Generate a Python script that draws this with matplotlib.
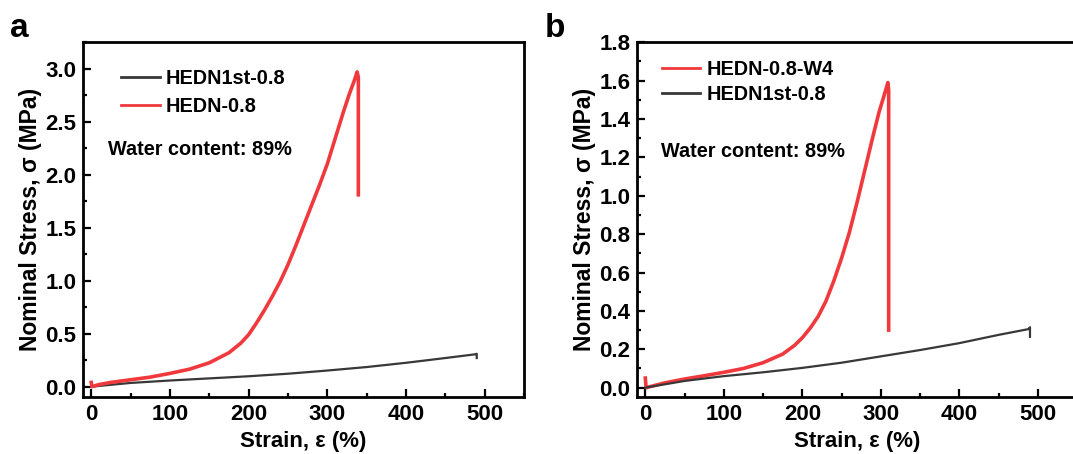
#! /usr/bin/env python3

import matplotlib
matplotlib.use('Agg')
import matplotlib.pyplot as plt
from matplotlib.ticker import MultipleLocator

# panel a
a_hedn_strain = [0, 1, 10, 25, 50, 75, 100, 125, 150, 175, 190, 200, 210, 220, 230, 240,
                 250, 260, 270, 280, 290, 300, 310, 320, 328, 334, 338, 339.5, 339.5]
a_hedn_stress = [0.04, 0.0, 0.02, 0.04, 0.065, 0.09, 0.125, 0.165, 0.225, 0.32, 0.41, 0.49,
                 0.6, 0.72, 0.85, 0.99, 1.15, 1.33, 1.52, 1.71, 1.9, 2.1, 2.34, 2.58,
                 2.76, 2.88, 2.97, 2.92, 1.81]
a_first_strain = [0, 50, 100, 150, 200, 250, 300, 350, 400, 450, 488, 490, 490]
a_first_stress = [0.0, 0.035, 0.058, 0.078, 0.098, 0.122, 0.152, 0.185, 0.225, 0.27,
                  0.305, 0.31, 0.27]

# panel b
b_w4_strain = [0, 1, 25, 50, 75, 100, 125, 150, 175, 190, 200, 210, 220, 230, 240, 250,
               260, 270, 280, 290, 298, 304, 309, 310, 310]
b_w4_stress = [0.05, 0.0, 0.025, 0.045, 0.062, 0.08, 0.1, 0.13, 0.175, 0.22, 0.26, 0.31,
               0.37, 0.45, 0.555, 0.675, 0.81, 0.97, 1.14, 1.31, 1.44, 1.52, 1.59, 1.55, 0.30]
b_first_strain = [0, 50, 100, 150, 200, 250, 300, 350, 400, 450, 488, 490, 490]
b_first_stress = [0.0, 0.035, 0.06, 0.08, 0.103, 0.13, 0.163, 0.196, 0.232, 0.275,
                  0.305, 0.315, 0.265]

RED = '#f0393c'
DARK = '#383838'


def style_axes(ax, ymax, ymin, ymajor, yminor):
    ax.set_xlim(-10, 550)
    ax.set_ylim(ymin, ymax)
    ax.xaxis.set_major_locator(MultipleLocator(100))
    ax.xaxis.set_minor_locator(MultipleLocator(50))
    ax.yaxis.set_major_locator(MultipleLocator(ymajor))
    ax.yaxis.set_minor_locator(MultipleLocator(yminor))
    ax.tick_params(which='both', direction='in', width=1.6, labelsize=16, pad=5)
    ax.tick_params(which='major', length=6)
    ax.tick_params(which='minor', length=3)
    for s in ax.spines.values():
        s.set_linewidth(2.0)
    for lab in ax.get_xticklabels() + ax.get_yticklabels():
        lab.set_fontweight('bold')
    ax.set_xlabel('Strain, ε (%)', fontsize=16, fontweight='bold')
    ax.set_ylabel('Nominal Stress, σ (MPa)', fontsize=16.5, fontweight='bold')
    ax.xaxis.set_label_coords(0.5, -0.095)
    ax.yaxis.set_label_coords(-0.093, 0.5)


def main():
    plt.rcParams['font.family'] = ['Liberation Sans', 'DejaVu Sans']
    plt.rcParams['font.weight'] = 'bold'
    fig = plt.figure(figsize=(10.73, 4.54), dpi=100)

    ax1 = fig.add_axes([0.0777, 0.125, 0.4106, 0.782])
    ax1.plot(a_first_strain, a_first_stress, color=DARK, lw=1.6, label='HEDN1st-0.8')
    ax1.plot(a_hedn_strain, a_hedn_stress, color=RED, lw=2.6, label='HEDN-0.8')
    style_axes(ax1, 3.25, -0.1, 0.5, 0.25)
    leg = ax1.legend(loc='upper left', bbox_to_anchor=(0.085, 0.925), frameon=False,
                     fontsize=14.3, handlelength=1.95, handletextpad=0.3, labelspacing=0.45,
                     borderpad=0, borderaxespad=0)
    for ln in leg.get_lines():
        ln.set_linewidth(2.0)
    ax1.text(0.056, 0.697, 'Water content: 89%', transform=ax1.transAxes,
             fontsize=14.3, fontweight='bold', va='center')

    ax2 = fig.add_axes([0.5941, 0.125, 0.4097, 0.782])
    ax2.plot(b_w4_strain, b_w4_stress, color=RED, lw=2.6, label='HEDN-0.8-W4')
    ax2.plot(b_first_strain, b_first_stress, color=DARK, lw=1.6, label='HEDN1st-0.8')
    style_axes(ax2, 1.8, -0.05, 0.2, 0.1)
    ax2.yaxis.set_label_coords(-0.095, 0.5)
    leg = ax2.legend(loc='upper left', bbox_to_anchor=(0.055, 0.95), frameon=False,
                     fontsize=14.3, handlelength=1.95, handletextpad=0.3, labelspacing=0.3,
                     borderpad=0, borderaxespad=0)
    for ln in leg.get_lines():
        ln.set_linewidth(2.0)
    ax2.text(0.054, 0.692, 'Water content: 89%', transform=ax2.transAxes,
             fontsize=14.3, fontweight='bold', va='center')

    fig.text(0.0093, 0.918, 'a', fontsize=24, fontweight='bold', va='baseline')
    fig.text(0.508, 0.918, 'b', fontsize=24, fontweight='bold', va='baseline')

    plt.savefig('out.png', dpi=100)
    print('saved figure to out.png')


if __name__ == '__main__':
    main()
